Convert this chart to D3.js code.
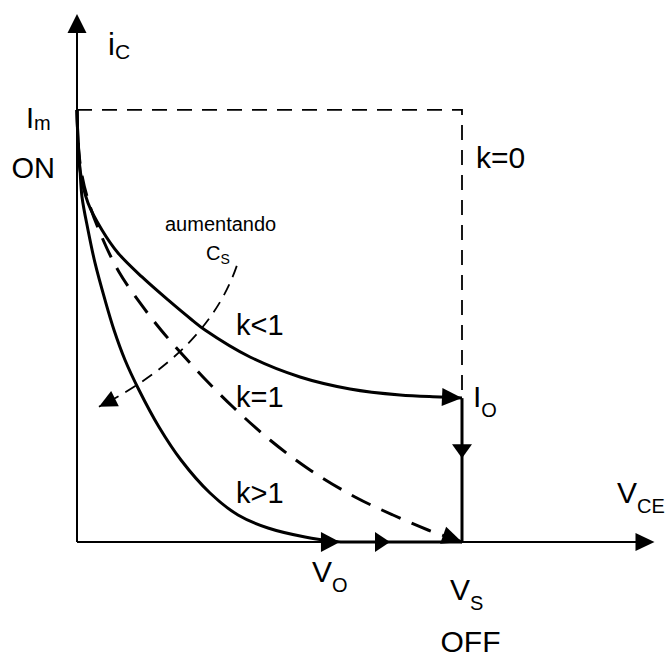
<!DOCTYPE html>
<html>
<head>
<meta charset="utf-8">
<script src="https://cdn.jsdelivr.net/npm/d3@7"></script>
<style>
  html, body { margin: 0; padding: 0; background: #fff; }
  svg { display: block; }
  text { font-family: "Liberation Sans", Arial, sans-serif; fill: #000; }
</style>
</head>
<body>
<svg id="chart" width="667" height="654"></svg>
<script>
// ---- data (normalised: V_CE / V_S on x, i_C / I_m on y) ----
const xAxisMax = 1.5;      // extent of V_CE axis
const yAxisMax = 1.222;    // extent of i_C axis
const Im = 1.0;            // peak current
const Io = 0.333;          // current at V_S for k<1
const Vo = 0.683;          // voltage where k>1 reaches zero current
const Vs = 1.0;            // supply voltage
const midArrowX = 0.813;   // arrow on the V_O..V_S segment
const downArrowY = 0.194;  // arrow on the vertical drop

// k<1 trajectory
const kLess = [[0,1],[0.0026,0.9306],[0.0078,0.8611],[0.0286,0.7847],[0.0649,0.7222],
  [0.1065,0.6690],[0.1688,0.6134],[0.2364,0.5602],[0.2987,0.5139],[0.3325,0.4907],
  [0.4494,0.4282],[0.5792,0.3819],[0.7091,0.3542],[0.8390,0.3403],[0.9429,0.3356],[1.0,0.3333]];
// k=1 trajectory (dashed)
const kEqual = [[0,1],[0.0026,0.9306],[0.0104,0.8611],[0.0286,0.7917],[0.0623,0.7106],
  [0.1091,0.6250],[0.1714,0.5440],[0.2182,0.4907],[0.2701,0.4375],[0.3273,0.3819],
  [0.4052,0.3125],[0.5013,0.2361],[0.6052,0.1667],[0.7221,0.1042],[0.8208,0.0625],
  [0.9117,0.0278],[1.0,0.0]];
// k>1 trajectory
const kGreater = [[0,1],[0.0026,0.9306],[0.0078,0.8611],[0.0130,0.7986],[0.0286,0.7222],
  [0.0468,0.6458],[0.0727,0.5602],[0.0961,0.4907],[0.1247,0.4213],[0.1610,0.3519],
  [0.2130,0.2662],[0.2701,0.1898],[0.3455,0.1134],[0.4182,0.0625],[0.4961,0.0324],
  [0.5922,0.0116],[0.683,0.0]];
// k=0 (dashed rectangle path)
const kZero = [[0,1],[1,1],[1,0.333]];
// "aumentando Cs" arrow: start, control, end
const csArrow = [[0.415,0.639],[0.3377,0.4398],[0.057,0.313]];

const curveLabels = ["k<1", "k=1", "k>1", "k=0"];

// ---- scales ----
const svg = d3.select("#chart");
const x = d3.scaleLinear().domain([0, xAxisMax]).range([77, 654.5]);
const y = d3.scaleLinear().domain([0, yAxisMax]).range([542, 14]);

const line = d3.line().x(d => x(d[0])).y(d => y(d[1])).curve(d3.curveCatmullRom.alpha(0.5));
const poly = d3.line().x(d => x(d[0])).y(d => y(d[1]));

function arrowHead(tx, ty, ang, len, hw) {
  const c = Math.cos(ang), s = Math.sin(ang);
  const bx = tx - len * c, by = ty - len * s;
  const p = [[tx, ty], [bx - hw * s, by + hw * c], [bx + hw * s, by - hw * c]];
  svg.append("path").attr("d", "M" + p.map(q => q.join(",")).join("L") + "Z")
    .attr("fill", "#000").attr("stroke", "none");
}
function endAngle(pts) {
  const a = pts[pts.length - 2], b = pts[pts.length - 1];
  return Math.atan2(y(b[1]) - y(a[1]), x(b[0]) - x(a[0]));
}

// ---- axes ----
const gx = svg.append("g").attr("transform", `translate(0,${y(0)})`)
  .call(d3.axisBottom(x).tickValues([]).tickSizeOuter(0));
const gy = svg.append("g").attr("transform", `translate(${x(0)},0)`)
  .call(d3.axisLeft(y).tickValues([]).tickSizeOuter(0));
svg.selectAll(".domain").attr("stroke", "#000").attr("stroke-width", 2);
gx.select(".domain").attr("d", `M${x(0)},0H${x(xAxisMax) - 10}`);
gy.select(".domain").attr("d", `M0,${y(0)}V${y(yAxisMax) + 10}`);
arrowHead(x(xAxisMax), y(0), 0, 19, 9);
arrowHead(x(0), y(yAxisMax), -Math.PI / 2, 19, 9.5);

// ---- k=0 dashed rectangle ----
svg.append("path").attr("d", poly(kZero)).attr("fill", "none")
  .attr("stroke", "#000").attr("stroke-width", 1.8).attr("stroke-dasharray", "15,10");

// ---- trajectories ----
svg.append("path").attr("d", line(kLess)).attr("fill", "none")
  .attr("stroke", "#000").attr("stroke-width", 3);
arrowHead(x(kLess[kLess.length - 1][0]), y(kLess[kLess.length - 1][1]), endAngle(kLess), 20, 9);

svg.append("path").attr("d", line(kEqual)).attr("fill", "none")
  .attr("stroke", "#000").attr("stroke-width", 3).attr("stroke-dasharray", "21,12");
arrowHead(x(kEqual[kEqual.length - 1][0]), y(kEqual[kEqual.length - 1][1]), endAngle(kEqual), 20, 9);

svg.append("path").attr("d", line(kGreater)).attr("fill", "none")
  .attr("stroke", "#000").attr("stroke-width", 3);

// thick segments: V_O..V_S on axis, and vertical drop at V_S
svg.append("path").attr("d", poly([[Vo, 0], [Vs, 0]])).attr("stroke", "#000").attr("stroke-width", 3);
svg.append("path").attr("d", poly([[Vs, Io], [Vs, 0]])).attr("stroke", "#000").attr("stroke-width", 3);
arrowHead(x(Vo), y(0), 0, 19, 10);
arrowHead(x(midArrowX), y(0), 0, 15, 10);
arrowHead(x(Vs), y(downArrowY), Math.PI / 2, 14, 10);

// ---- "aumentando Cs" arrow ----
const cp = d3.path();
cp.moveTo(x(csArrow[0][0]), y(csArrow[0][1]));
cp.quadraticCurveTo(x(csArrow[1][0]), y(csArrow[1][1]), x(csArrow[2][0]), y(csArrow[2][1]));
svg.append("path").attr("d", cp.toString()).attr("fill", "none")
  .attr("stroke", "#000").attr("stroke-width", 1.8).attr("stroke-dasharray", "12,8");
arrowHead(x(csArrow[2][0]), y(csArrow[2][1]), endAngle([csArrow[1], csArrow[2]]), 18, 8.5);

// ---- text ----
function label(px, py, main, size, sub, subSize, subDy) {
  const t = svg.append("text").attr("x", px).attr("y", py).attr("font-size", size).text(main);
  if (sub) {
    const w = t.node().getComputedTextLength();
    svg.append("text").attr("x", px + w).attr("y", py + subDy).attr("font-size", subSize).text(sub);
  }
}
label(108, 55, "i", 31, "C", 21, 4);
label(26, 128, "I", 29, "m", 20, 2);
label(11.5, 178, "ON", 29);
label(476, 168, curveLabels[3], 30);
label(165, 231, "aumentando", 20);
label(206, 260, "C", 20, "S", 14, 4);
label(236, 335, curveLabels[0], 29);
label(236, 407, curveLabels[1], 29);
label(236, 503, curveLabels[2], 29);
label(473, 407, "I", 30, "O", 20, 10);
label(617, 503, "V", 30, "CE", 20, 10);
label(312, 582, "V", 30, "O", 20, 10);
label(450, 600, "V", 30, "S", 20, 10);
label(440.5, 652, "OFF", 30);
</script>
</body>
</html>
